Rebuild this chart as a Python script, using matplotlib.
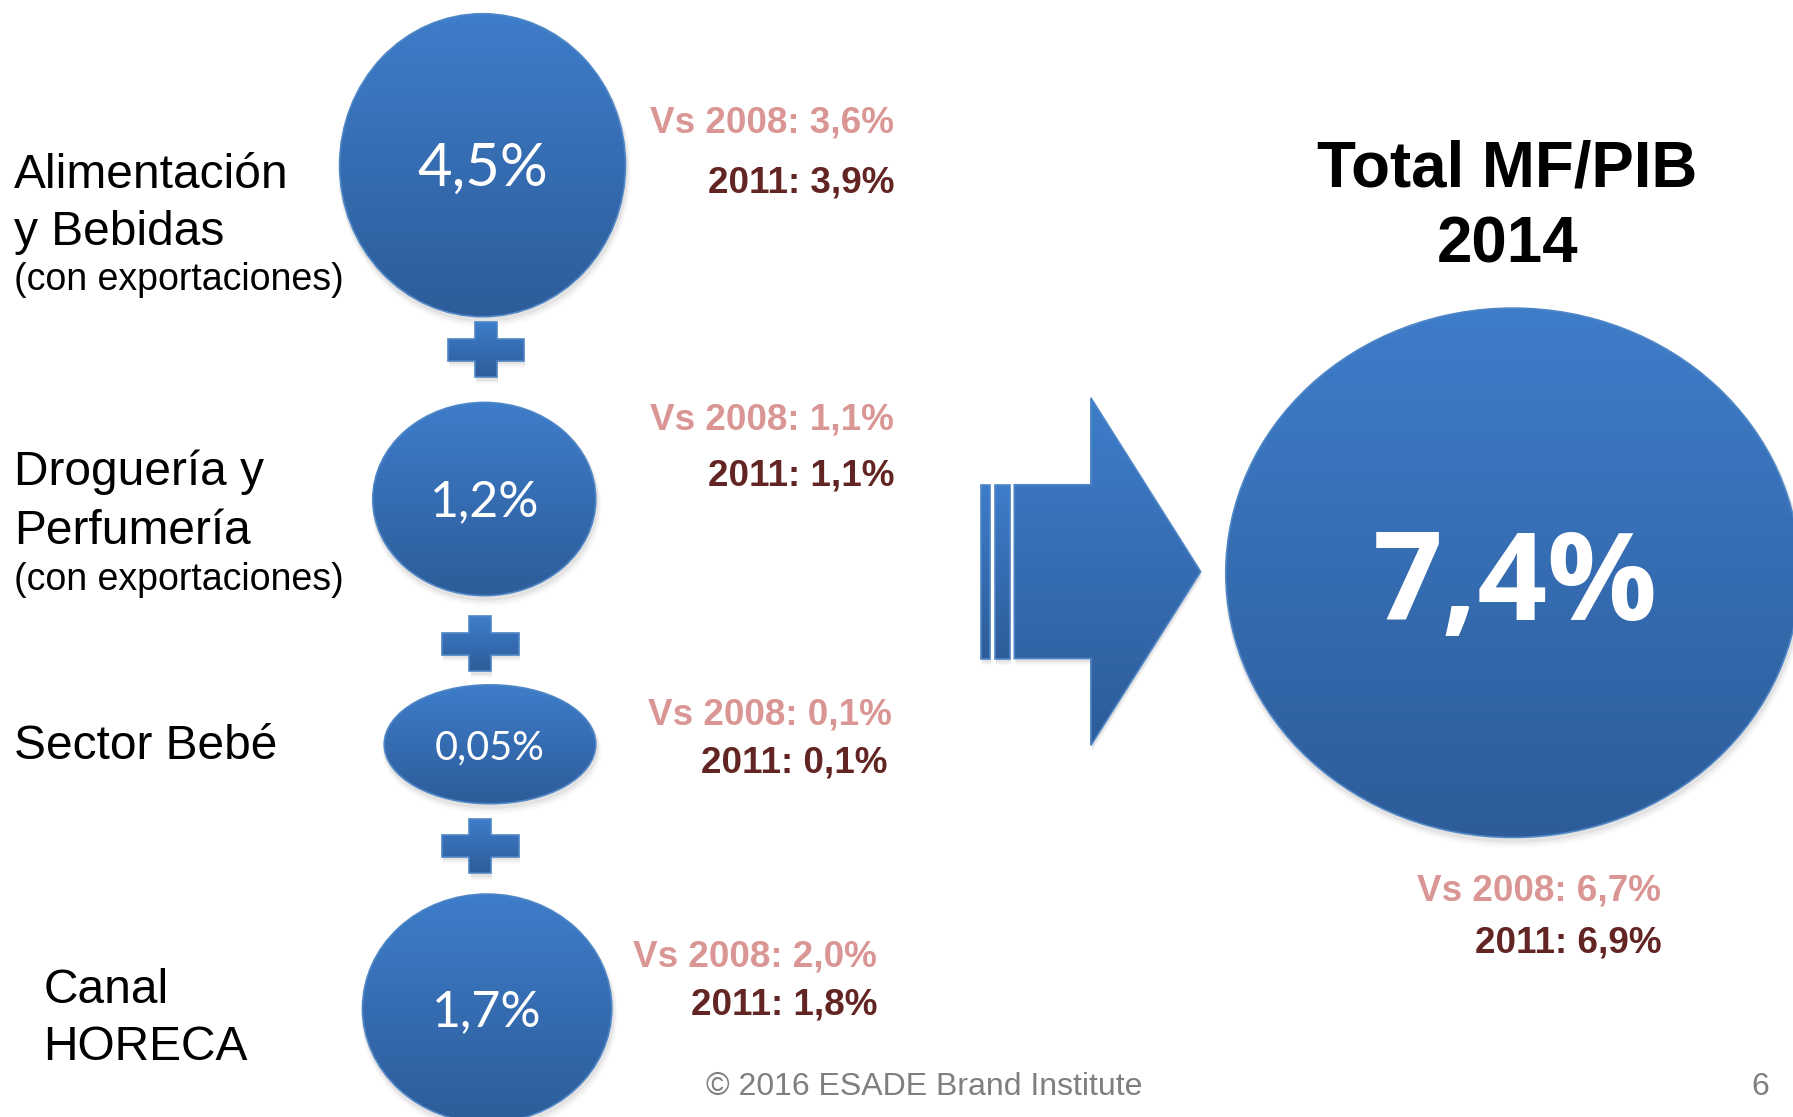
import numpy as np
import matplotlib.pyplot as plt
from matplotlib.patches import Ellipse, Polygon
from matplotlib.colors import LinearSegmentedColormap

# data
sectors = [["Alimentación", "y Bebidas", "(con exportaciones)"],
           ["Droguería y", "Perfumería", "(con exportaciones)"],
           ["Sector Bebé"],
           ["Canal", "HORECA"]]
share_2014 = ["4,5%", "1,2%", "0,05%", "1,7%"]
share_2008 = ["3,6%", "1,1%", "0,1%", "2,0%"]
share_2011 = ["3,9%", "1,1%", "0,1%", "1,8%"]
total_2014 = "7,4%"
total_2008 = "6,7%"
total_2011 = "6,9%"

# layout (canvas units, y down)
bubbles = [(422, 144.5, 250, 265), (423.5, 436.5, 195, 169),
           (428.5, 651, 185, 104), (426, 882, 218, 200)]
num_size = [43, 36, 28.5, 36]
label_x = [12, 12, 12, 38]
label_base = [[164, 214, 254], [424, 476, 516], [664], [877, 927]]
crosses = [(425, 306), (420, 563), (420, 740)]
side_right = [782, 782, 780, 767]
side_base = [(116, 168), (376, 425), (634, 676), (845, 887)]

PINK = "#D99694"
MAROON = "#632523"
blue_cmap = LinearSegmentedColormap.from_list("bl", ["#3E7DCA", "#2D5C99"])
grad = np.linspace(0, 1, 256).reshape(-1, 1)

fig = plt.figure(figsize=(17.93, 11.17), dpi=100)
ax = fig.add_axes([0, 0, 1, 1])
ax.set_xlim(0, 1568)
ax.set_ylim(977, 0)
ax.axis("off")


def fill_shape(patch, x0, x1, y0, y1, shadow):
    # soft shadow: a few faint offset copies
    for k, a in enumerate([0.10, 0.07, 0.04]):
        sh = shadow(3 + k * 1.5)
        sh.set_facecolor("#7f7f7f")
        sh.set_alpha(a)
        sh.set_edgecolor("none")
        ax.add_patch(sh)
    patch.set_facecolor("none")
    patch.set_edgecolor("#4F86C6")
    patch.set_linewidth(1.2)
    ax.add_patch(patch)
    im = ax.imshow(grad, extent=[x0, x1, y1, y0], origin="upper",
                   cmap=blue_cmap, aspect="auto", zorder=1.5)
    im.set_clip_path(patch)


def bubble(cx, cy, w, h):
    fill_shape(Ellipse((cx, cy), w, h, zorder=2), cx - w / 2, cx + w / 2,
               cy - h / 2, cy + h / 2,
               lambda d: Ellipse((cx + d * 0.3, cy + d), w + d, h + d, zorder=1))


def cross(cx, cy):
    a, b = 33.5, 9.5
    top, bot = 24, 24
    pts = [(cx - b, cy - top), (cx + b, cy - top), (cx + b, cy - b),
           (cx + a, cy - b), (cx + a, cy + b), (cx + b, cy + b),
           (cx + b, cy + bot), (cx - b, cy + bot), (cx - b, cy + b),
           (cx - a, cy + b), (cx - a, cy - b), (cx - b, cy - b)]
    fill_shape(Polygon(pts, closed=True, zorder=2), cx - a, cx + a,
               cy - top, cy + bot,
               lambda d: Polygon([(x + 1, y + d) for x, y in pts], zorder=1))


for i, (cx, cy, w, h) in enumerate(bubbles):
    bubble(cx, cy, w, h)
    ax.text(cx, cy + 3, share_2014[i], color="white", fontsize=num_size[i],
            family="Lato", ha="center", va="center", zorder=3)
    for j, line in enumerate(sectors[i]):
        small = line.startswith("(")
        ax.text(label_x[i], label_base[i][j], line, family="Liberation Sans",
                fontsize=27 if small else 34.5, color="black",
                ha="left", va="baseline")
    ax.text(side_right[i], side_base[i][0], "Vs 2008: " + share_2008[i],
            color=PINK, fontsize=26.6, weight="bold", family="Liberation Sans",
            ha="right", va="baseline")
    ax.text(side_right[i] - (4 if i == 2 else 0), side_base[i][1],
            "2011: " + share_2011[i], color=MAROON, fontsize=26.6,
            weight="bold", family="Liberation Sans", ha="right", va="baseline")

for cx, cy in crosses:
    cross(cx, cy)

# striped arrow
arrow = [(887, 424), (954, 424), (954, 348), (1050, 500), (954, 652),
         (954, 576), (887, 576)]
fill_shape(Polygon(arrow, closed=True, zorder=2), 887, 1050, 348, 652,
           lambda d: Polygon([(x + 1, y + d) for x, y in arrow], zorder=1))
for x0, x1 in [(858, 865.5), (870, 883.5)]:
    stripe = [(x0, 424), (x1, 424), (x1, 576), (x0, 576)]
    fill_shape(Polygon(stripe, closed=True, zorder=2), x0, x1, 424, 576,
               lambda d, s=stripe: Polygon([(x + 1, y + d) for x, y in s],
                                           zorder=1))

# total bubble
bubble(1323, 501, 502, 463)
ax.text(1325, 514, total_2014, color="white", fontsize=88, weight="bold",
        family="Open Sans", ha="center", va="center", zorder=3)
ax.text(1318, 163, "Total MF/PIB", fontsize=45.8, weight="bold",
        family="Liberation Sans", ha="center", va="baseline")
ax.text(1318, 230, "2014", fontsize=45.8, weight="bold",
        family="Liberation Sans", ha="center", va="baseline")
ax.text(1453, 788, "Vs 2008: " + total_2008, color=PINK, fontsize=26.6,
        weight="bold", family="Liberation Sans", ha="right", va="baseline")
ax.text(1453, 833, "2011: " + total_2011, color=MAROON, fontsize=26.6,
        weight="bold", family="Liberation Sans", ha="right", va="baseline")

# footer
ax.text(808, 958, "© 2016 ESADE Brand Institute", color="#7F7F7F",
        fontsize=23, family="Liberation Sans", ha="center", va="baseline")
ax.text(1547, 958, "6", color="#7F7F7F", fontsize=23,
        family="Liberation Sans", ha="right", va="baseline")

fig.savefig("out.png", dpi=100)
